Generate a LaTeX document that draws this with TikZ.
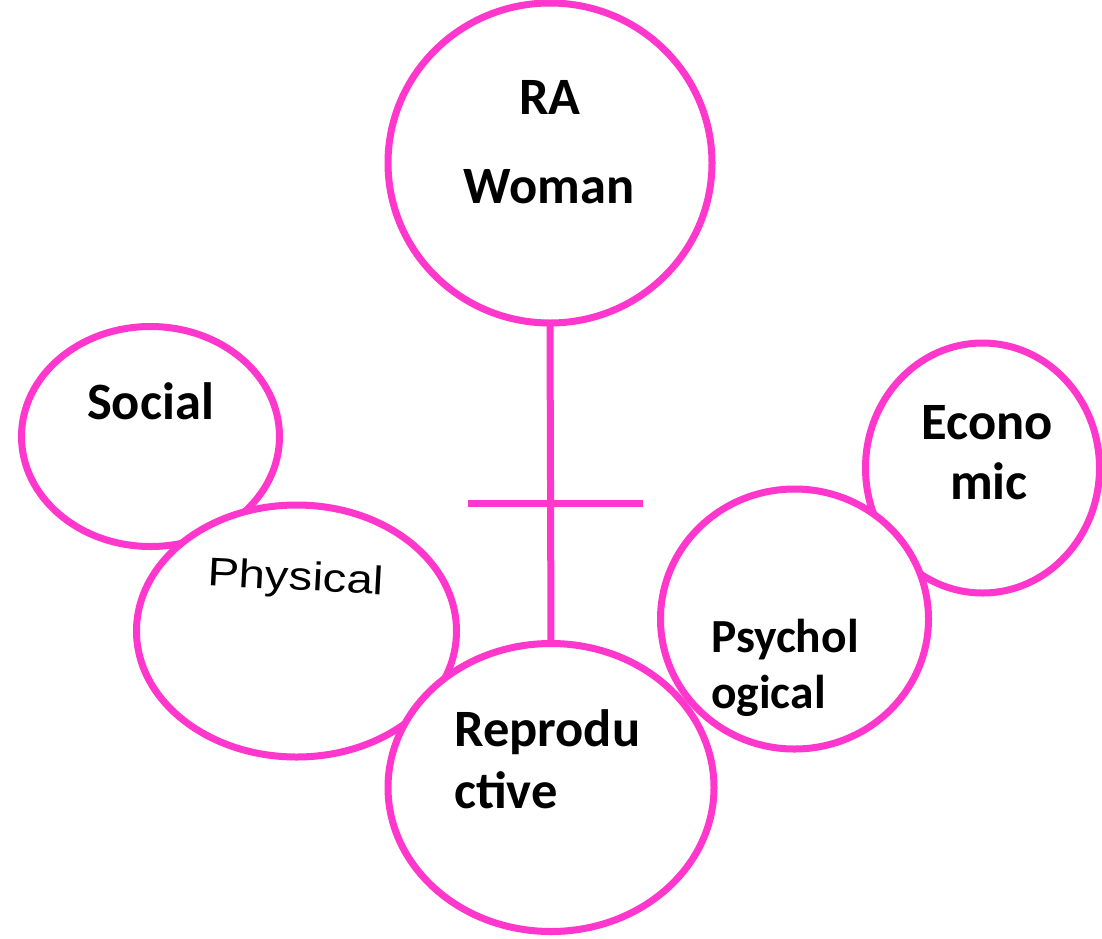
\documentclass[tikz,border=0pt]{standalone}
\usepackage{fontspec}
\setmainfont{Carlito}
\newfontfamily\arialf{Liberation Sans}
\usetikzlibrary{shapes.geometric}
\definecolor{pinkline}{RGB}{255,55,205}
\begin{document}
\begin{tikzpicture}[x=1pt,y=-1pt,
  bubble/.style={ellipse,draw=pinkline,line width=7pt,fill=white,inner sep=0pt,outer sep=0pt},
  lbl/.style={font=\fontsize{52.5}{60}\selectfont\bfseries,inner sep=0pt,anchor=base},
  lbls/.style={font=\fontsize{47.5}{54}\selectfont\bfseries,inner sep=0pt,anchor=base west},
  bar/.style={draw=pinkline,line width=7pt}]
\clip (0,0) rectangle (1102,938);
\useasboundingbox (0,0) rectangle (1102,938);
\fill[white] (0,0) rectangle (1102,938);
% back ellipses
\node[bubble,minimum width=258pt,minimum height=220pt] (soc) at (150.5,436.5) {};
\node[bubble,minimum width=234pt,minimum height=250pt] (eco) at (982.5,468) {};
\node[bubble,minimum width=324pt,minimum height=320pt] (ra) at (550,163) {};
% connectors
\coordinate (barL) at (468,503);
\coordinate (barR) at (643,503);
\node[bubble,minimum width=320pt,minimum height=252pt] (phy) at (296.5,631) {};
\node[bubble,minimum width=268pt,minimum height=260pt] (psy) at (794.5,619) {};
\node[bubble,minimum width=326pt,minimum height=288pt] (rep) at (551,787.5) {};
\draw[bar] (ra.south) -- (rep.north);
\draw[bar] (barL) -- (barR);
% labels
\node[lbl] (t1) at (550,114) {RA};
\node[lbl] (t2) at (549,203) {Woman};
\node[lbl] (t3) at (150.5,419) {Social};
\node[inner sep=0pt,anchor=base,rotate=-3,font=\arialf\fontsize{40}{48}\selectfont] (t4) at (295,590) {\scalebox{1.18}[1]{Physical}};
\node[lbl] (t5) at (987.5,439) {Econo};
\node[lbl] (t6) at (989,499) {mic};
\node[lbls] (t7) at (711,652) {Psychol};
\node[lbls] (t8) at (711,708) {ogical};
\node[lbl,anchor=base west] (t9) at (454,746) {Reprodu};
\node[lbl,anchor=base west] (t10) at (454,808) {ctive};
\end{tikzpicture}
\end{document}
